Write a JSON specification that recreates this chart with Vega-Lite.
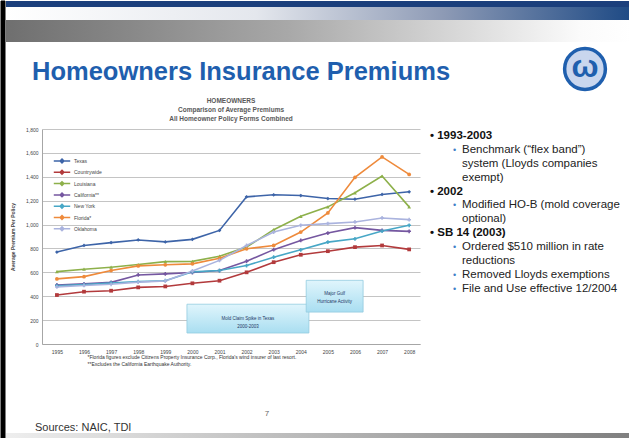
{
  "$schema": "https://vega.github.io/schema/vega-lite/v6.json",
  "background": "white",
  "padding": 0,
  "config": {
    "font": "Liberation Sans",
    "view": {"stroke": null},
    "axis": {"labelFont": "Liberation Sans", "titleFont": "Liberation Sans"},
    "legend": {"labelFont": "Liberation Sans"}
  },
  "datasets": {
    "premiums": [
      {"series": "Texas", "year": 1995, "premium": 770},
      {"series": "Texas", "year": 1996, "premium": 825},
      {"series": "Texas", "year": 1997, "premium": 849},
      {"series": "Texas", "year": 1998, "premium": 871},
      {"series": "Texas", "year": 1999, "premium": 855},
      {"series": "Texas", "year": 2000, "premium": 876},
      {"series": "Texas", "year": 2001, "premium": 951},
      {"series": "Texas", "year": 2002, "premium": 1232},
      {"series": "Texas", "year": 2003, "premium": 1249},
      {"series": "Texas", "year": 2004, "premium": 1243},
      {"series": "Texas", "year": 2005, "premium": 1218},
      {"series": "Texas", "year": 2006, "premium": 1212},
      {"series": "Texas", "year": 2007, "premium": 1252},
      {"series": "Texas", "year": 2008, "premium": 1274},
      {"series": "Countrywide", "year": 1995, "premium": 410},
      {"series": "Countrywide", "year": 1996, "premium": 438},
      {"series": "Countrywide", "year": 1997, "premium": 446},
      {"series": "Countrywide", "year": 1998, "premium": 474},
      {"series": "Countrywide", "year": 1999, "premium": 482},
      {"series": "Countrywide", "year": 2000, "premium": 508},
      {"series": "Countrywide", "year": 2001, "premium": 530},
      {"series": "Countrywide", "year": 2002, "premium": 600},
      {"series": "Countrywide", "year": 2003, "premium": 685},
      {"series": "Countrywide", "year": 2004, "premium": 747},
      {"series": "Countrywide", "year": 2005, "premium": 777},
      {"series": "Countrywide", "year": 2006, "premium": 811},
      {"series": "Countrywide", "year": 2007, "premium": 825},
      {"series": "Countrywide", "year": 2008, "premium": 792},
      {"series": "Louisiana", "year": 1995, "premium": 606},
      {"series": "Louisiana", "year": 1996, "premium": 626},
      {"series": "Louisiana", "year": 1997, "premium": 643},
      {"series": "Louisiana", "year": 1998, "premium": 665},
      {"series": "Louisiana", "year": 1999, "premium": 690},
      {"series": "Louisiana", "year": 2000, "premium": 692},
      {"series": "Louisiana", "year": 2001, "premium": 735},
      {"series": "Louisiana", "year": 2002, "premium": 811},
      {"series": "Louisiana", "year": 2003, "premium": 957},
      {"series": "Louisiana", "year": 2004, "premium": 1069},
      {"series": "Louisiana", "year": 2005, "premium": 1148},
      {"series": "Louisiana", "year": 2006, "premium": 1266},
      {"series": "Louisiana", "year": 2007, "premium": 1406},
      {"series": "Louisiana", "year": 2008, "premium": 1148},
      {"series": "California**", "year": 1995, "premium": 494},
      {"series": "California**", "year": 1996, "premium": 503},
      {"series": "California**", "year": 1997, "premium": 516},
      {"series": "California**", "year": 1998, "premium": 578},
      {"series": "California**", "year": 1999, "premium": 587},
      {"series": "California**", "year": 2000, "premium": 598},
      {"series": "California**", "year": 2001, "premium": 615},
      {"series": "California**", "year": 2002, "premium": 693},
      {"series": "California**", "year": 2003, "premium": 790},
      {"series": "California**", "year": 2004, "premium": 867},
      {"series": "California**", "year": 2005, "premium": 929},
      {"series": "California**", "year": 2006, "premium": 974},
      {"series": "California**", "year": 2007, "premium": 951},
      {"series": "California**", "year": 2008, "premium": 943},
      {"series": "New York", "year": 1995, "premium": 488},
      {"series": "New York", "year": 1996, "premium": 497},
      {"series": "New York", "year": 1997, "premium": 511},
      {"series": "New York", "year": 1998, "premium": 522},
      {"series": "New York", "year": 1999, "premium": 530},
      {"series": "New York", "year": 2000, "premium": 604},
      {"series": "New York", "year": 2001, "premium": 615},
      {"series": "New York", "year": 2002, "premium": 657},
      {"series": "New York", "year": 2003, "premium": 727},
      {"series": "New York", "year": 2004, "premium": 789},
      {"series": "New York", "year": 2005, "premium": 853},
      {"series": "New York", "year": 2006, "premium": 881},
      {"series": "New York", "year": 2007, "premium": 946},
      {"series": "New York", "year": 2008, "premium": 994},
      {"series": "Florida*", "year": 1995, "premium": 545},
      {"series": "Florida*", "year": 1996, "premium": 564},
      {"series": "Florida*", "year": 1997, "premium": 615},
      {"series": "Florida*", "year": 1998, "premium": 654},
      {"series": "Florida*", "year": 1999, "premium": 663},
      {"series": "Florida*", "year": 2000, "premium": 671},
      {"series": "Florida*", "year": 2001, "premium": 718},
      {"series": "Florida*", "year": 2002, "premium": 797},
      {"series": "Florida*", "year": 2003, "premium": 825},
      {"series": "Florida*", "year": 2004, "premium": 937},
      {"series": "Florida*", "year": 2005, "premium": 1097},
      {"series": "Florida*", "year": 2006, "premium": 1395},
      {"series": "Florida*", "year": 2007, "premium": 1566},
      {"series": "Florida*", "year": 2008, "premium": 1420},
      {"series": "Oklahoma", "year": 1995, "premium": 478},
      {"series": "Oklahoma", "year": 1996, "premium": 490},
      {"series": "Oklahoma", "year": 1997, "premium": 500},
      {"series": "Oklahoma", "year": 1998, "premium": 518},
      {"series": "Oklahoma", "year": 1999, "premium": 528},
      {"series": "Oklahoma", "year": 2000, "premium": 612},
      {"series": "Oklahoma", "year": 2001, "premium": 700},
      {"series": "Oklahoma", "year": 2002, "premium": 825},
      {"series": "Oklahoma", "year": 2003, "premium": 937},
      {"series": "Oklahoma", "year": 2004, "premium": 994},
      {"series": "Oklahoma", "year": 2005, "premium": 1008},
      {"series": "Oklahoma", "year": 2006, "premium": 1022},
      {"series": "Oklahoma", "year": 2007, "premium": 1055},
      {"series": "Oklahoma", "year": 2008, "premium": 1041}
    ],
    "boxes": [
      {"x0": 1999.8, "x1": 2004.3, "y0": 92, "y1": 333, "xm": 2002.05, "ym": 212, "label": ["Mold Claim Spike in Texas", "2000-2003"]},
      {"x0": 2004.2, "x1": 2006.3, "y0": 267, "y1": 533, "xm": 2005.25, "ym": 420, "label": ["Major Gulf", "Hurricane Activity"]}
    ],
    "bullets": [
      {"line": 0, "kind": "head", "text": "• 1993-2003"},
      {"line": 1, "kind": "sub", "text": "Benchmark (“flex band”)"},
      {"line": 2, "kind": "cont", "text": "system (Lloyds companies"},
      {"line": 3, "kind": "cont", "text": "exempt)"},
      {"line": 4, "kind": "head", "text": "• 2002"},
      {"line": 5, "kind": "sub", "text": "Modified HO-B (mold coverage"},
      {"line": 6, "kind": "cont", "text": "optional)"},
      {"line": 7, "kind": "head", "text": "• SB 14 (2003)"},
      {"line": 8, "kind": "sub", "text": "Ordered $510 million in rate"},
      {"line": 9, "kind": "cont", "text": "reductions"},
      {"line": 10, "kind": "sub", "text": "Removed Lloyds exemptions"},
      {"line": 11, "kind": "sub", "text": "File and Use effective 12/2004"}
    ]
  },
  "spacing": 0,
  "resolve": {"scale": {"color": "independent", "shape": "independent"}, "legend": {"color": "independent", "shape": "independent"}},
  "hconcat": [
    {
      "data": {"values": [{}]},
      "width": 4,
      "height": 438,
      "mark": {"type": "rect", "fill": "#000000", "stroke": "#000000"},
      "encoding": {"x": {"value": 0}, "x2": {"value": "width"}, "y": {"value": 0}, "y2": {"value": "height"}}
    },
    {
      "spacing": 0,
      "resolve": {"scale": {"color": "independent", "shape": "independent"}, "legend": {"color": "independent", "shape": "independent"}},
      "vconcat": [
        {
          "data": {"values": [{}]},
          "width": 589,
          "height": 95,
          "layer": [
            {"mark": {"type": "rect", "color": "#1b3f7c"}, "encoding": {"x": {"value": -36}, "x2": {"value": "width"}, "y": {"value": 0}, "y2": {"value": 6}}},
            {"mark": {"type": "rect", "color": {"gradient": "linear", "stops": [{"offset": 0, "color": "#ffffff"}, {"offset": 0.4, "color": "#e4e7ed"}, {"offset": 0.7, "color": "#8d9ab5"}, {"offset": 1, "color": "#1e4a85"}]}}, "encoding": {"x": {"value": -36}, "x2": {"value": "width"}, "y": {"value": 6}, "y2": {"value": 19}}},
            {"mark": {"type": "rect", "color": {"gradient": "linear", "stops": [{"offset": 0, "color": "#6f6f6f"}, {"offset": 0.45, "color": "#a8a8a8"}, {"offset": 0.92, "color": "#fbfbfb"}, {"offset": 1, "color": "#ffffff"}]}}, "encoding": {"x": {"value": -36}, "x2": {"value": "width"}, "y": {"value": 19}, "y2": {"value": 41}}},
            {"mark": {"type": "text", "text": "Homeowners Insurance Premiums", "align": "left", "baseline": "alphabetic", "fontSize": 25.5, "fontWeight": "bold", "color": "#1f5fae", "font": "Liberation Sans"}, "encoding": {"x": {"value": -10}, "y": {"value": 79}}},
            {"mark": {"type": "point", "shape": "circle", "size": 1662, "filled": false, "stroke": "#1f5fae", "strokeWidth": 3.5, "fill": "#c9d6ee", "fillOpacity": 1}, "encoding": {"x": {"value": 543}, "y": {"value": 68}}},
            {"mark": {"type": "text", "text": "ω", "fontSize": 32, "fontWeight": "bold", "color": "#1f5fae", "baseline": "middle"}, "encoding": {"x": {"value": 543}, "y": {"value": 66}}}
          ]
        },
        {
          "width": 378,
          "height": 215,
          "title": {"text": ["HOMEOWNERS", "Comparison of Average Premiums", "All Homeowner Policy Forms Combined"], "fontSize": 6.5, "fontWeight": "bold", "color": "#595959", "lineHeight": 9, "offset": 5, "anchor": "middle"},
          "resolve": {"scale": {"y": "independent"}, "axis": {"y": "independent"}, "legend": {"color": "independent", "shape": "independent"}},
          "layer": [
            {
              "resolve": {"legend": {"color": "independent", "shape": "independent"}},
              "layer": [
                {
                  "data": {"name": "premiums"},
                  "mark": {"type": "line", "strokeWidth": 1.6},
                  "encoding": {
                    "x": {"field": "year", "type": "quantitative", "scale": {"domain": [1994.45, 2008.4], "nice": false, "zero": false},
                      "axis": {"values": [1995, 1996, 1997, 1998, 1999, 2000, 2001, 2002, 2003, 2004, 2005, 2006, 2007, 2008], "tickCount": 14, "format": "d", "labelOverlap": false, "labelFontSize": 5, "labelColor": "#444444", "labelPadding": 5, "ticks": false, "grid": false, "domainColor": "#a6a6a6",
                        "title": ["*Florida figures exclude Citizens Property Insurance Corp., Florida's wind insurer of last resort.", "**Excludes the California Earthquake Authority."],
                        "titleFontSize": 5, "titleFontWeight": "normal", "titleColor": "#333333", "titleAnchor": "start", "titleAlign": "left", "titleX": 45, "titlePadding": 0, "titleLineHeight": 7.5}},
                    "y": {"field": "premium", "type": "quantitative", "scale": {"domain": [0, 1800], "nice": false},
                      "axis": {"values": [0, 200, 400, 600, 800, 1000, 1200, 1400, 1600, 1800], "tickCount": 10, "format": ",d", "labelOverlap": false, "labelFontSize": 5, "labelColor": "#444444", "labelPadding": 4, "ticks": false, "grid": true, "gridColor": "#c4c4c4", "domainColor": "#a6a6a6",
                        "title": "Average Premium Per Policy", "titleFontSize": 5, "titleFontWeight": "bold", "titleColor": "#444444", "titlePadding": 10}},
                    "color": {"field": "series", "type": "nominal",
                      "scale": {"domain": ["Texas", "Countrywide", "Louisiana", "California**", "New York", "Florida*", "Oklahoma"], "range": ["#3d64a8", "#b23a3c", "#8db04a", "#7557a0", "#47a7c6", "#ee8a3b", "#aab3de"]},
                      "legend": {"orient": "none", "legendX": 16, "legendY": 28, "title": null, "labelFontSize": 5, "labelColor": "#444444", "symbolType": "M-2.6,0L2.6,0M0,-0.6L0.6,0L0,0.6L-0.6,0Z", "symbolStrokeWidth": 1.5, "symbolSize": 40, "rowPadding": 1.3, "labelOffset": 8}}
                  }
                },
                {
                  "data": {"name": "premiums"},
                  "mark": {"type": "point", "filled": true, "size": 14, "opacity": 1},
                  "encoding": {
                    "x": {"field": "year", "type": "quantitative"},
                    "y": {"field": "premium", "type": "quantitative"},
                    "color": {"field": "series", "type": "nominal", "legend": null},
                    "shape": {"field": "series", "type": "nominal", "legend": null,
                      "scale": {"domain": ["Texas", "Countrywide", "Louisiana", "California**", "New York", "Florida*", "Oklahoma"], "range": ["diamond", "square", "triangle-up", "cross", "cross", "circle", "cross"]}}
                  }
                },
                {
                  "data": {"name": "boxes"},
                  "mark": {"type": "rect", "stroke": "#93cbe0", "strokeWidth": 0.8, "fill": {"gradient": "linear", "x1": 0, "y1": 0, "x2": 0, "y2": 1, "stops": [{"offset": 0, "color": "#e0f5fc"}, {"offset": 1, "color": "#a9def1"}]}},
                  "encoding": {
                    "x": {"field": "x0", "type": "quantitative"},
                    "x2": {"field": "x1"},
                    "y": {"field": "y0", "type": "quantitative"},
                    "y2": {"field": "y1"}
                  }
                },
                {
                  "data": {"name": "boxes"},
                  "mark": {"type": "text", "fontSize": 4.5, "color": "#1f3864", "lineHeight": 8},
                  "encoding": {
                    "x": {"field": "xm", "type": "quantitative"},
                    "y": {"field": "ym", "type": "quantitative"},
                    "text": {"field": "label"}
                  }
                }
              ]
            },
            {
              "data": {"name": "bullets"},
              "encoding": {"y": {"field": "line", "type": "quantitative", "scale": {"domain": [-0.5, 14.97], "reverse": true, "nice": false, "zero": false}, "axis": null}},
              "layer": [
                {
                  "transform": [{"filter": "datum.kind == 'head'"}],
                  "mark": {"type": "text", "align": "left", "baseline": "middle", "fontSize": 11.5, "fontWeight": "bold", "color": "#111111"},
                  "encoding": {"x": {"value": 388}, "text": {"field": "text"}}
                },
                {
                  "transform": [{"filter": "datum.kind != 'head'"}],
                  "mark": {"type": "text", "align": "left", "baseline": "middle", "fontSize": 11.5, "color": "#222222"},
                  "encoding": {"x": {"value": 420}, "text": {"field": "text"}}
                },
                {
                  "transform": [{"filter": "datum.kind == 'sub'"}],
                  "mark": {"type": "text", "align": "left", "baseline": "middle", "fontSize": 9, "color": "#3f7fc8", "text": "•"},
                  "encoding": {"x": {"value": 411}}
                }
              ]
            }
          ]
        },
        {
          "data": {"values": [{}]},
          "width": 589,
          "height": 66,
          "layer": [
            {"mark": {"type": "text", "text": "7", "fontSize": 8, "color": "#666666"}, "encoding": {"x": {"value": 225}, "y": {"value": 47}}},
            {"mark": {"type": "text", "text": "Sources: NAIC, TDI", "fontSize": 11, "color": "#333333", "align": "left", "baseline": "bottom"}, "encoding": {"x": {"value": -7}, "y": {"value": "height"}}}
          ]
        },
        {
          "data": {"values": [{}]},
          "width": 589,
          "height": 6,
          "mark": {"type": "rect", "color": {"gradient": "linear", "stops": [{"offset": 0, "color": "#eeeeee"}, {"offset": 1, "color": "#7f7f7f"}]}},
          "encoding": {"x": {"value": -36}, "x2": {"value": "width"}, "y": {"value": 0}, "y2": {"value": "height"}}
        }
      ]
    }
  ]
}
